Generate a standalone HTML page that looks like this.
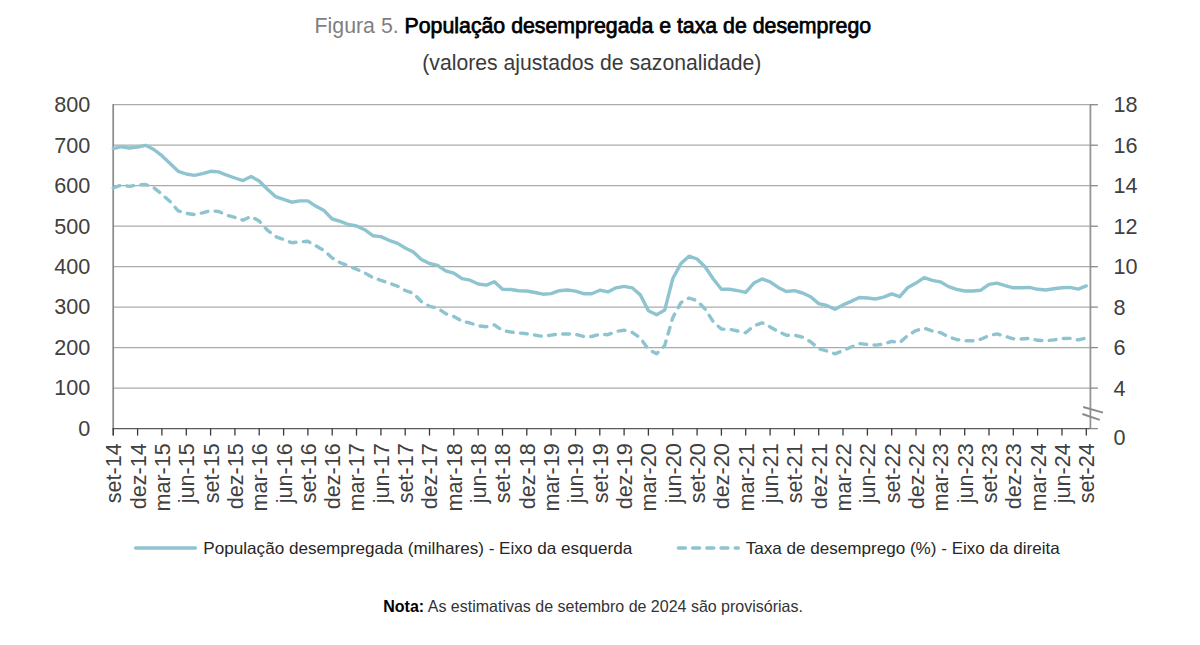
<!DOCTYPE html>
<html><head><meta charset="utf-8">
<style>
html,body{margin:0;padding:0;background:#fff;}
body{width:1200px;height:645px;overflow:hidden;position:relative;font-family:"Liberation Sans",sans-serif;}
svg{position:absolute;left:0;top:0;}
.ax{font-family:"Liberation Sans",sans-serif;font-size:21.6px;fill:#404040;}
.lg{font-family:"Liberation Sans",sans-serif;font-size:16.5px;fill:#262626;}
.tt{font-family:"Liberation Sans",sans-serif;}
</style></head><body>
<svg width="1200" height="645" viewBox="0 0 1200 645">
<text x="314.6" y="32.8" class="tt" font-size="22.3" textLength="556.5" lengthAdjust="spacingAndGlyphs"><tspan fill="#7F7F7F">Figura 5. </tspan><tspan fill="#000" stroke="#000" stroke-width="0.75">População desempregada e taxa de desemprego</tspan></text>
<text x="422.3" y="70.4" class="tt" font-size="21.8" fill="#3A3A3A" textLength="339" lengthAdjust="spacingAndGlyphs">(valores ajustados de sazonalidade)</text>
<line x1="113.2" y1="104.7" x2="1090.4" y2="104.7" stroke="#ABABAB" stroke-width="1.3"/>
<line x1="113.2" y1="145.2" x2="1090.4" y2="145.2" stroke="#ABABAB" stroke-width="1.3"/>
<line x1="113.2" y1="185.7" x2="1090.4" y2="185.7" stroke="#ABABAB" stroke-width="1.3"/>
<line x1="113.2" y1="226.2" x2="1090.4" y2="226.2" stroke="#ABABAB" stroke-width="1.3"/>
<line x1="113.2" y1="266.7" x2="1090.4" y2="266.7" stroke="#ABABAB" stroke-width="1.3"/>
<line x1="113.2" y1="307.1" x2="1090.4" y2="307.1" stroke="#ABABAB" stroke-width="1.3"/>
<line x1="113.2" y1="347.6" x2="1090.4" y2="347.6" stroke="#ABABAB" stroke-width="1.3"/>
<line x1="113.2" y1="388.1" x2="1090.4" y2="388.1" stroke="#ABABAB" stroke-width="1.3"/>
<line x1="113.2" y1="104.0" x2="113.2" y2="435.6" stroke="#8A8A8A" stroke-width="1.7"/>
<line x1="1090.4" y1="104.0" x2="1090.4" y2="428.6" stroke="#959595" stroke-width="1.8"/>
<line x1="1090.4" y1="104.7" x2="1097.9" y2="104.7" stroke="#8A8A8A" stroke-width="1.3"/>
<line x1="1090.4" y1="145.2" x2="1097.9" y2="145.2" stroke="#8A8A8A" stroke-width="1.3"/>
<line x1="1090.4" y1="185.7" x2="1097.9" y2="185.7" stroke="#8A8A8A" stroke-width="1.3"/>
<line x1="1090.4" y1="226.2" x2="1097.9" y2="226.2" stroke="#8A8A8A" stroke-width="1.3"/>
<line x1="1090.4" y1="266.7" x2="1097.9" y2="266.7" stroke="#8A8A8A" stroke-width="1.3"/>
<line x1="1090.4" y1="307.1" x2="1097.9" y2="307.1" stroke="#8A8A8A" stroke-width="1.3"/>
<line x1="1090.4" y1="347.6" x2="1097.9" y2="347.6" stroke="#8A8A8A" stroke-width="1.3"/>
<line x1="1090.4" y1="388.1" x2="1097.9" y2="388.1" stroke="#8A8A8A" stroke-width="1.3"/>
<line x1="1090.4" y1="428.6" x2="1097.9" y2="428.6" stroke="#8A8A8A" stroke-width="1.3"/>
<line x1="112.5" y1="428.6" x2="1090.4" y2="428.6" stroke="#5A5A5A" stroke-width="1.4"/>
<line x1="113.3" y1="428.6" x2="113.3" y2="435.6" stroke="#3A3A3A" stroke-width="1.3"/>
<line x1="137.6" y1="428.6" x2="137.6" y2="435.6" stroke="#3A3A3A" stroke-width="1.3"/>
<line x1="161.9" y1="428.6" x2="161.9" y2="435.6" stroke="#3A3A3A" stroke-width="1.3"/>
<line x1="186.3" y1="428.6" x2="186.3" y2="435.6" stroke="#3A3A3A" stroke-width="1.3"/>
<line x1="210.6" y1="428.6" x2="210.6" y2="435.6" stroke="#3A3A3A" stroke-width="1.3"/>
<line x1="234.9" y1="428.6" x2="234.9" y2="435.6" stroke="#3A3A3A" stroke-width="1.3"/>
<line x1="259.2" y1="428.6" x2="259.2" y2="435.6" stroke="#3A3A3A" stroke-width="1.3"/>
<line x1="283.6" y1="428.6" x2="283.6" y2="435.6" stroke="#3A3A3A" stroke-width="1.3"/>
<line x1="307.9" y1="428.6" x2="307.9" y2="435.6" stroke="#3A3A3A" stroke-width="1.3"/>
<line x1="332.2" y1="428.6" x2="332.2" y2="435.6" stroke="#3A3A3A" stroke-width="1.3"/>
<line x1="356.5" y1="428.6" x2="356.5" y2="435.6" stroke="#3A3A3A" stroke-width="1.3"/>
<line x1="380.9" y1="428.6" x2="380.9" y2="435.6" stroke="#3A3A3A" stroke-width="1.3"/>
<line x1="405.2" y1="428.6" x2="405.2" y2="435.6" stroke="#3A3A3A" stroke-width="1.3"/>
<line x1="429.5" y1="428.6" x2="429.5" y2="435.6" stroke="#3A3A3A" stroke-width="1.3"/>
<line x1="453.8" y1="428.6" x2="453.8" y2="435.6" stroke="#3A3A3A" stroke-width="1.3"/>
<line x1="478.2" y1="428.6" x2="478.2" y2="435.6" stroke="#3A3A3A" stroke-width="1.3"/>
<line x1="502.5" y1="428.6" x2="502.5" y2="435.6" stroke="#3A3A3A" stroke-width="1.3"/>
<line x1="526.8" y1="428.6" x2="526.8" y2="435.6" stroke="#3A3A3A" stroke-width="1.3"/>
<line x1="551.1" y1="428.6" x2="551.1" y2="435.6" stroke="#3A3A3A" stroke-width="1.3"/>
<line x1="575.5" y1="428.6" x2="575.5" y2="435.6" stroke="#3A3A3A" stroke-width="1.3"/>
<line x1="599.8" y1="428.6" x2="599.8" y2="435.6" stroke="#3A3A3A" stroke-width="1.3"/>
<line x1="624.1" y1="428.6" x2="624.1" y2="435.6" stroke="#3A3A3A" stroke-width="1.3"/>
<line x1="648.4" y1="428.6" x2="648.4" y2="435.6" stroke="#3A3A3A" stroke-width="1.3"/>
<line x1="672.8" y1="428.6" x2="672.8" y2="435.6" stroke="#3A3A3A" stroke-width="1.3"/>
<line x1="697.1" y1="428.6" x2="697.1" y2="435.6" stroke="#3A3A3A" stroke-width="1.3"/>
<line x1="721.4" y1="428.6" x2="721.4" y2="435.6" stroke="#3A3A3A" stroke-width="1.3"/>
<line x1="745.7" y1="428.6" x2="745.7" y2="435.6" stroke="#3A3A3A" stroke-width="1.3"/>
<line x1="770.1" y1="428.6" x2="770.1" y2="435.6" stroke="#3A3A3A" stroke-width="1.3"/>
<line x1="794.4" y1="428.6" x2="794.4" y2="435.6" stroke="#3A3A3A" stroke-width="1.3"/>
<line x1="818.7" y1="428.6" x2="818.7" y2="435.6" stroke="#3A3A3A" stroke-width="1.3"/>
<line x1="843.0" y1="428.6" x2="843.0" y2="435.6" stroke="#3A3A3A" stroke-width="1.3"/>
<line x1="867.4" y1="428.6" x2="867.4" y2="435.6" stroke="#3A3A3A" stroke-width="1.3"/>
<line x1="891.7" y1="428.6" x2="891.7" y2="435.6" stroke="#3A3A3A" stroke-width="1.3"/>
<line x1="916.0" y1="428.6" x2="916.0" y2="435.6" stroke="#3A3A3A" stroke-width="1.3"/>
<line x1="940.3" y1="428.6" x2="940.3" y2="435.6" stroke="#3A3A3A" stroke-width="1.3"/>
<line x1="964.7" y1="428.6" x2="964.7" y2="435.6" stroke="#3A3A3A" stroke-width="1.3"/>
<line x1="989.0" y1="428.6" x2="989.0" y2="435.6" stroke="#3A3A3A" stroke-width="1.3"/>
<line x1="1013.3" y1="428.6" x2="1013.3" y2="435.6" stroke="#3A3A3A" stroke-width="1.3"/>
<line x1="1037.6" y1="428.6" x2="1037.6" y2="435.6" stroke="#3A3A3A" stroke-width="1.3"/>
<line x1="1062.0" y1="428.6" x2="1062.0" y2="435.6" stroke="#3A3A3A" stroke-width="1.3"/>
<line x1="1086.3" y1="428.6" x2="1086.3" y2="435.6" stroke="#3A3A3A" stroke-width="1.3"/>
<line x1="1083.2" y1="407" x2="1103" y2="412.6" stroke="#8A8A8A" stroke-width="1.9"/>
<line x1="1082.4" y1="414" x2="1099.8" y2="419.8" stroke="#8A8A8A" stroke-width="1.9"/>
<path d="M113.3,148.6 L121.4,146.7 L129.5,148.0 L137.6,147.1 L145.7,145.3 L153.8,149.5 L161.9,155.7 L170.1,163.5 L178.2,171.3 L186.3,174.0 L194.4,175.4 L202.5,173.7 L210.6,171.3 L218.7,171.9 L226.8,175.2 L234.9,178.0 L243.0,180.6 L251.1,176.5 L259.2,181.0 L267.4,189.2 L275.5,196.6 L283.6,199.4 L291.7,202.2 L299.8,200.9 L307.9,200.9 L316.0,206.3 L324.1,210.6 L332.2,219.0 L340.3,221.4 L348.4,224.5 L356.5,226.0 L364.7,229.7 L372.8,235.7 L380.9,236.6 L389.0,240.3 L397.1,243.1 L405.2,248.0 L413.3,252.0 L421.4,259.4 L429.5,263.5 L437.6,265.3 L445.7,270.9 L453.8,273.2 L462.0,278.7 L470.1,280.2 L478.2,284.0 L486.3,285.1 L494.4,281.7 L502.5,289.2 L510.6,289.5 L518.7,290.7 L526.8,291.0 L534.9,292.5 L543.0,294.2 L551.1,293.6 L559.3,290.7 L567.4,290.0 L575.5,291.1 L583.6,293.7 L591.7,293.7 L599.8,290.2 L607.9,291.9 L616.0,287.8 L624.1,286.3 L632.2,287.8 L640.3,294.9 L648.4,310.7 L656.6,314.8 L664.7,310.1 L672.8,278.5 L680.9,263.6 L689.0,256.2 L697.1,259.0 L705.2,267.0 L713.3,279.0 L721.4,289.3 L729.5,289.3 L737.6,290.6 L745.7,292.4 L753.9,283.1 L762.0,278.9 L770.1,281.8 L778.2,287.4 L786.3,291.5 L794.4,290.6 L802.5,293.0 L810.6,296.7 L818.7,303.6 L826.8,305.5 L834.9,309.2 L843.0,304.9 L851.2,301.4 L859.3,297.5 L867.4,298.0 L875.5,299.0 L883.6,297.1 L891.7,293.9 L899.8,296.7 L907.9,287.4 L916.0,283.1 L924.1,277.6 L932.2,280.3 L940.3,281.8 L948.5,286.6 L956.6,289.4 L964.7,291.0 L972.8,291.0 L980.9,290.2 L989.0,284.4 L997.1,283.1 L1005.2,285.6 L1013.3,287.8 L1021.4,287.8 L1029.5,287.4 L1037.6,289.3 L1045.8,290.0 L1053.9,288.7 L1062.0,287.8 L1070.1,287.4 L1078.2,289.1 L1086.3,285.9" fill="none" stroke="#8EC4D0" stroke-width="3.4" stroke-linejoin="round" stroke-linecap="round"/>
<path d="M113.3,188.0 L121.4,184.9 L129.5,186.4 L137.6,184.9 L145.7,184.5 L153.8,187.7 L161.9,194.2 L170.1,201.6 L178.2,210.9 L186.3,213.3 L194.4,214.6 L202.5,212.8 L210.6,210.6 L218.7,211.5 L226.8,215.2 L234.9,217.4 L243.0,220.2 L251.1,216.5 L259.2,221.0 L267.4,230.1 L275.5,236.6 L283.6,239.4 L291.7,242.8 L299.8,241.8 L307.9,241.3 L316.0,245.9 L324.1,250.6 L332.2,258.0 L340.3,262.7 L348.4,266.0 L356.5,269.2 L364.7,272.9 L372.8,277.6 L380.9,280.3 L389.0,283.1 L397.1,286.0 L405.2,290.5 L413.3,293.3 L421.4,301.6 L429.5,306.3 L437.6,308.1 L445.7,313.7 L453.8,316.5 L462.0,321.2 L470.1,323.0 L478.2,325.8 L486.3,326.7 L494.4,324.9 L502.5,330.5 L510.6,332.0 L518.7,332.9 L526.8,333.8 L534.9,335.1 L543.0,336.4 L551.1,335.1 L559.3,334.0 L567.4,333.9 L575.5,334.3 L583.6,336.5 L591.7,336.5 L599.8,334.3 L607.9,334.7 L616.0,331.5 L624.1,330.2 L632.2,332.4 L640.3,338.0 L648.4,349.2 L656.6,353.8 L664.7,345.5 L672.8,317.6 L680.9,302.7 L689.0,298.0 L697.1,300.8 L705.2,309.2 L713.3,321.8 L721.4,329.1 L729.5,329.3 L737.6,331.0 L745.7,332.8 L753.9,325.9 L762.0,322.8 L770.1,326.9 L778.2,331.5 L786.3,335.2 L794.4,335.2 L802.5,337.1 L810.6,341.7 L818.7,348.8 L826.8,351.0 L834.9,353.8 L843.0,350.7 L851.2,347.0 L859.3,343.6 L867.4,344.5 L875.5,345.1 L883.6,344.2 L891.7,341.4 L899.8,342.7 L907.9,335.2 L916.0,330.6 L924.1,328.2 L932.2,331.0 L940.3,332.6 L948.5,336.8 L956.6,339.5 L964.7,340.8 L972.8,340.8 L980.9,339.2 L989.0,335.5 L997.1,333.9 L1005.2,336.3 L1013.3,338.8 L1021.4,339.0 L1029.5,338.4 L1037.6,340.3 L1045.8,340.8 L1053.9,339.9 L1062.0,338.6 L1070.1,338.4 L1078.2,339.9 L1086.3,338.0" fill="none" stroke="#8EC4D0" stroke-width="3.4" stroke-linejoin="round" stroke-linecap="round" stroke-dasharray="6.8 7.4"/>
<text x="90.2" y="112.0" text-anchor="end" class="ax">800</text>
<text x="90.2" y="152.5" text-anchor="end" class="ax">700</text>
<text x="90.2" y="193.0" text-anchor="end" class="ax">600</text>
<text x="90.2" y="233.5" text-anchor="end" class="ax">500</text>
<text x="90.2" y="274.0" text-anchor="end" class="ax">400</text>
<text x="90.2" y="314.4" text-anchor="end" class="ax">300</text>
<text x="90.2" y="354.9" text-anchor="end" class="ax">200</text>
<text x="90.2" y="395.4" text-anchor="end" class="ax">100</text>
<text x="90.2" y="435.9" text-anchor="end" class="ax">0</text>
<text x="1113.5" y="112.4" class="ax">18</text>
<text x="1113.5" y="152.9" class="ax">16</text>
<text x="1113.5" y="193.4" class="ax">14</text>
<text x="1113.5" y="233.9" class="ax">12</text>
<text x="1113.5" y="274.4" class="ax">10</text>
<text x="1113.5" y="314.8" class="ax">8</text>
<text x="1113.5" y="355.3" class="ax">6</text>
<text x="1113.5" y="395.8" class="ax">4</text>
<text x="1113.5" y="444.6" class="ax">0</text>
<text transform="translate(121.2,443.2) rotate(-90)" text-anchor="end" class="ax">set-14</text>
<text transform="translate(145.5,443.2) rotate(-90)" text-anchor="end" class="ax">dez-14</text>
<text transform="translate(169.8,443.2) rotate(-90)" text-anchor="end" class="ax">mar-15</text>
<text transform="translate(194.2,443.2) rotate(-90)" text-anchor="end" class="ax">jun-15</text>
<text transform="translate(218.5,443.2) rotate(-90)" text-anchor="end" class="ax">set-15</text>
<text transform="translate(242.8,443.2) rotate(-90)" text-anchor="end" class="ax">dez-15</text>
<text transform="translate(267.1,443.2) rotate(-90)" text-anchor="end" class="ax">mar-16</text>
<text transform="translate(291.5,443.2) rotate(-90)" text-anchor="end" class="ax">jun-16</text>
<text transform="translate(315.8,443.2) rotate(-90)" text-anchor="end" class="ax">set-16</text>
<text transform="translate(340.1,443.2) rotate(-90)" text-anchor="end" class="ax">dez-16</text>
<text transform="translate(364.4,443.2) rotate(-90)" text-anchor="end" class="ax">mar-17</text>
<text transform="translate(388.8,443.2) rotate(-90)" text-anchor="end" class="ax">jun-17</text>
<text transform="translate(413.1,443.2) rotate(-90)" text-anchor="end" class="ax">set-17</text>
<text transform="translate(437.4,443.2) rotate(-90)" text-anchor="end" class="ax">dez-17</text>
<text transform="translate(461.7,443.2) rotate(-90)" text-anchor="end" class="ax">mar-18</text>
<text transform="translate(486.1,443.2) rotate(-90)" text-anchor="end" class="ax">jun-18</text>
<text transform="translate(510.4,443.2) rotate(-90)" text-anchor="end" class="ax">set-18</text>
<text transform="translate(534.7,443.2) rotate(-90)" text-anchor="end" class="ax">dez-18</text>
<text transform="translate(559.0,443.2) rotate(-90)" text-anchor="end" class="ax">mar-19</text>
<text transform="translate(583.4,443.2) rotate(-90)" text-anchor="end" class="ax">jun-19</text>
<text transform="translate(607.7,443.2) rotate(-90)" text-anchor="end" class="ax">set-19</text>
<text transform="translate(632.0,443.2) rotate(-90)" text-anchor="end" class="ax">dez-19</text>
<text transform="translate(656.3,443.2) rotate(-90)" text-anchor="end" class="ax">mar-20</text>
<text transform="translate(680.7,443.2) rotate(-90)" text-anchor="end" class="ax">jun-20</text>
<text transform="translate(705.0,443.2) rotate(-90)" text-anchor="end" class="ax">set-20</text>
<text transform="translate(729.3,443.2) rotate(-90)" text-anchor="end" class="ax">dez-20</text>
<text transform="translate(753.6,443.2) rotate(-90)" text-anchor="end" class="ax">mar-21</text>
<text transform="translate(778.0,443.2) rotate(-90)" text-anchor="end" class="ax">jun-21</text>
<text transform="translate(802.3,443.2) rotate(-90)" text-anchor="end" class="ax">set-21</text>
<text transform="translate(826.6,443.2) rotate(-90)" text-anchor="end" class="ax">dez-21</text>
<text transform="translate(850.9,443.2) rotate(-90)" text-anchor="end" class="ax">mar-22</text>
<text transform="translate(875.3,443.2) rotate(-90)" text-anchor="end" class="ax">jun-22</text>
<text transform="translate(899.6,443.2) rotate(-90)" text-anchor="end" class="ax">set-22</text>
<text transform="translate(923.9,443.2) rotate(-90)" text-anchor="end" class="ax">dez-22</text>
<text transform="translate(948.2,443.2) rotate(-90)" text-anchor="end" class="ax">mar-23</text>
<text transform="translate(972.6,443.2) rotate(-90)" text-anchor="end" class="ax">jun-23</text>
<text transform="translate(996.9,443.2) rotate(-90)" text-anchor="end" class="ax">set-23</text>
<text transform="translate(1021.2,443.2) rotate(-90)" text-anchor="end" class="ax">dez-23</text>
<text transform="translate(1045.5,443.2) rotate(-90)" text-anchor="end" class="ax">mar-24</text>
<text transform="translate(1069.9,443.2) rotate(-90)" text-anchor="end" class="ax">jun-24</text>
<text transform="translate(1094.2,443.2) rotate(-90)" text-anchor="end" class="ax">set-24</text>
<line x1="135.6" y1="548" x2="195.4" y2="548" stroke="#8EC4D0" stroke-width="3.4" stroke-linecap="round"/>
<text x="203.3" y="553.7" class="lg" textLength="429" lengthAdjust="spacingAndGlyphs">População desempregada (milhares) - Eixo da esquerda</text>
<line x1="678.4" y1="548" x2="738.3" y2="548" stroke="#8EC4D0" stroke-width="3.4" stroke-linecap="round" stroke-dasharray="7 7.2"/>
<text x="745.8" y="553.7" class="lg" textLength="314" lengthAdjust="spacingAndGlyphs">Taxa de desemprego (%) - Eixo da direita</text>
<text x="383.3" y="612.1" class="tt" font-size="16.5" textLength="419.6" lengthAdjust="spacingAndGlyphs"><tspan fill="#000" font-weight="bold">Nota:</tspan><tspan fill="#333"> As estimativas de setembro de 2024 são provisórias.</tspan></text>
</svg>
</body></html>
